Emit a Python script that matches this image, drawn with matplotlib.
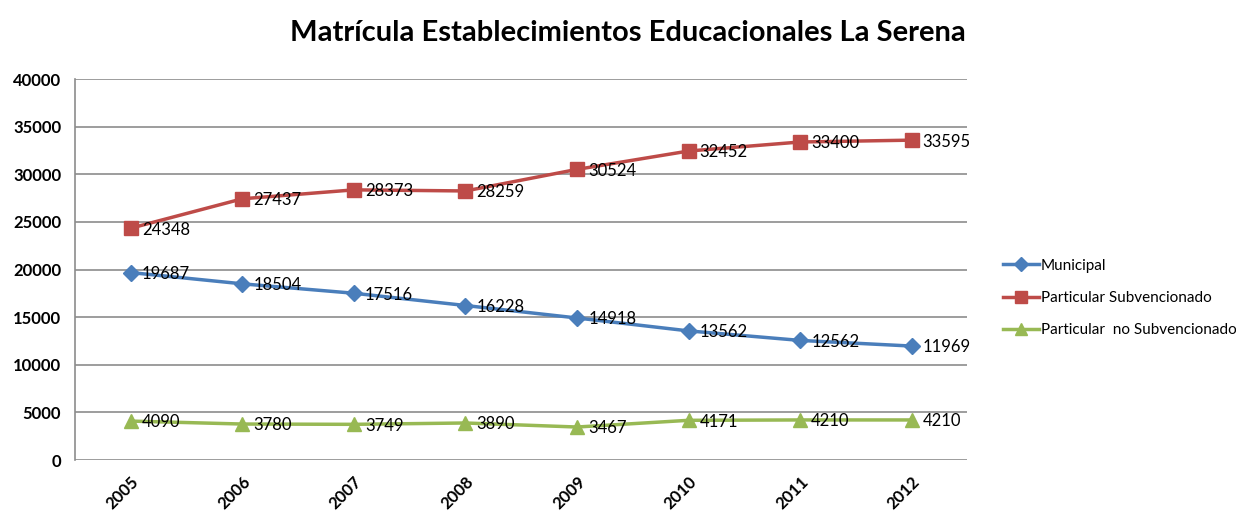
import matplotlib.pyplot as plt
from matplotlib.lines import Line2D

plt.rcParams['font.family'] = ['Lato', 'DejaVu Sans']

years = ['2005', '2006', '2007', '2008', '2009', '2010', '2011', '2012']
municipal = [19687, 18504, 17516, 16228, 14918, 13562, 12562, 11969]
subvencionado = [24348, 27437, 28373, 28259, 30524, 32452, 33400, 33595]
no_subvencionado = [4090, 3780, 3749, 3890, 3467, 4171, 4210, 4210]

series = [
    ('Municipal', municipal, '#4a7ebb', 'D', 8),
    ('Particular Subvencionado', subvencionado, '#be4b48', 's', 10),
    ('Particular  no Subvencionado', no_subvencionado, '#98b954', '^', 10),
]

fig = plt.figure(figsize=(12.36, 5.14), dpi=100)
ax = fig.add_axes([0.0607, 0.105, 0.722, 0.741])

x = list(range(len(years)))
handles = []
for name, vals, col, mk, ms in series:
    ax.plot(x, vals, color=col, lw=2.5, marker=mk, markersize=ms, zorder=3)
    for xi, v in zip(x, vals):
        ax.annotate(str(v), (xi, v), xytext=(8, -1), textcoords='offset points',
                    fontsize=12, color='black', va='center', ha='left', zorder=4)
    handles.append(Line2D([], [], color=col, lw=2.5, marker=mk, markersize=ms - 1, label=name))

ax.set_xlim(-0.5, 7.5)
ax.set_ylim(0, 40000)
ax.set_yticks(range(0, 40001, 5000))
ax.set_xticks(x)
ax.set_xticklabels(years, rotation=45, ha='right', rotation_mode='anchor',
                   fontsize=12, fontweight='bold')
for lab in ax.get_yticklabels():
    lab.set_fontsize(12)
    lab.set_fontweight('bold')
ax.yaxis.grid(True, color='#8c8c8c', lw=1.2)
ax.set_axisbelow(True)
for s in ['top', 'right', 'bottom']:
    ax.spines[s].set_visible(False)
ax.spines['left'].set_color('#8c8c8c')
ax.spines['left'].set_linewidth(1.2)
ax.tick_params(axis='both', length=0, pad=10)

fig.legend(handles=handles, loc='center left', bbox_to_anchor=(0.8, 0.42),
           frameon=False, fontsize=11, handlelength=2.4, handletextpad=0.1,
           labelspacing=1.2)

fig.text(0.508, 0.935, 'Matrícula Establecimientos Educacionales La Serena',
         ha='center', va='center', fontsize=21, fontweight='bold')

fig.savefig('out.png', dpi=100)
